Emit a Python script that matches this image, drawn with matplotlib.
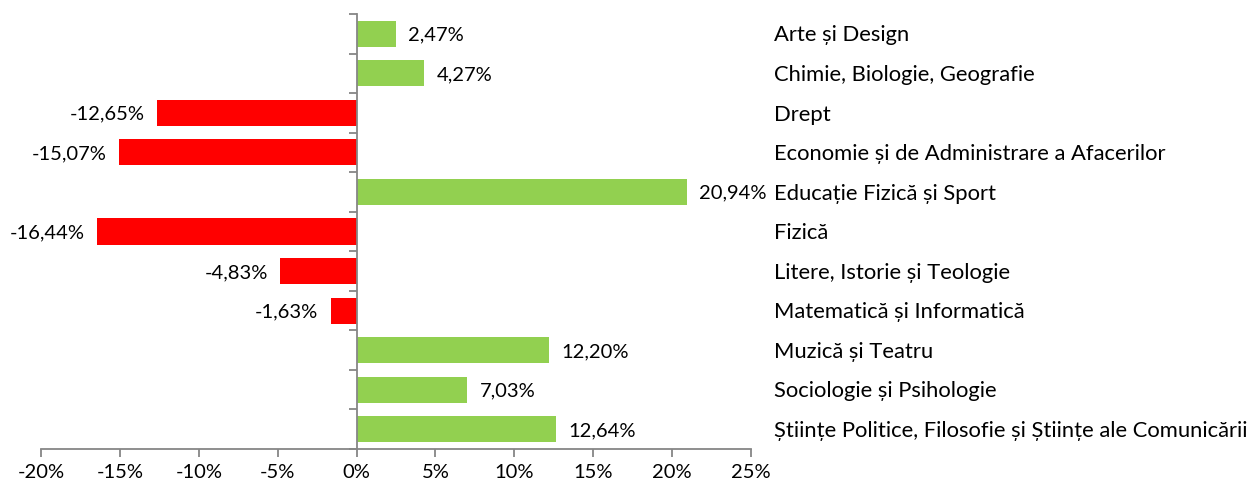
import numpy as np
import matplotlib
matplotlib.use('Agg')
from matplotlib import pyplot as plt
from matplotlib.transforms import blended_transform_factory

plt.rcParams['font.family'] = ['Lato', 'DejaVu Sans']

categories = ['Arte și Design', 'Chimie, Biologie, Geografie', 'Drept',
              'Economie și de Administrare a Afacerilor', 'Educație Fizică și Sport',
              'Fizică', 'Litere, Istorie și Teologie', 'Matematică și Informatică',
              'Muzică și Teatru', 'Sociologie și Psihologie',
              'Științe Politice, Filosofie și Științe ale Comunicării']
values = [2.47, 4.27, -12.65, -15.07, 20.94, -16.44, -4.83, -1.63, 12.20, 7.03, 12.64]
xticks = [-20, -15, -10, -5, 0, 5, 10, 15, 20, 25]

green = '#92D050'
red = '#FF0000'
gray = '#868686'

fig = plt.figure(figsize=(12.54, 4.91), dpi=100)
ax = fig.add_axes([41/1254, 42/491, 710/1254, 435/491])

y = np.arange(len(categories))
colors = [green if v >= 0 else red for v in values]
ax.barh(y, values, height=0.66, color=colors)

ax.set_xlim(-20, 25)
ax.set_ylim(len(categories) - 0.5, -0.5)

for s in ['top', 'right']:
    ax.spines[s].set_visible(False)
ax.spines['left'].set_position(('data', 0))
ax.spines['left'].set_color(gray)
ax.spines['bottom'].set_color(gray)
ax.spines['left'].set_linewidth(1.3)
ax.spines['bottom'].set_linewidth(1.3)

ax.set_xticks(xticks)
ax.set_xticklabels([f'{t}%' for t in xticks], fontsize=14.5)
ax.tick_params(axis='x', length=6, width=1.3, color=gray, pad=5)
ax.set_yticks(np.arange(len(categories) + 1) - 0.5)
ax.set_yticklabels([])
ax.tick_params(axis='y', length=6, width=1.3, color=gray)

for i, v in enumerate(values):
    lab = f'{v:.2f}%'.replace('.', ',')
    if v >= 0:
        ax.annotate(lab, (v, i), xytext=(9, -1), textcoords='offset points',
                    ha='left', va='center', fontsize=14.5)
    else:
        ax.annotate(lab, (v, i), xytext=(-9, -1), textcoords='offset points',
                    ha='right', va='center', fontsize=14.5)

trans = blended_transform_factory(ax.transAxes, ax.transData)
for i, c in enumerate(categories):
    ax.annotate(c, (1.032, i), xycoords=trans, xytext=(0, -1.2),
                textcoords='offset points', ha='left', va='center', fontsize=15.8)

fig.savefig('out.png', dpi=100)
